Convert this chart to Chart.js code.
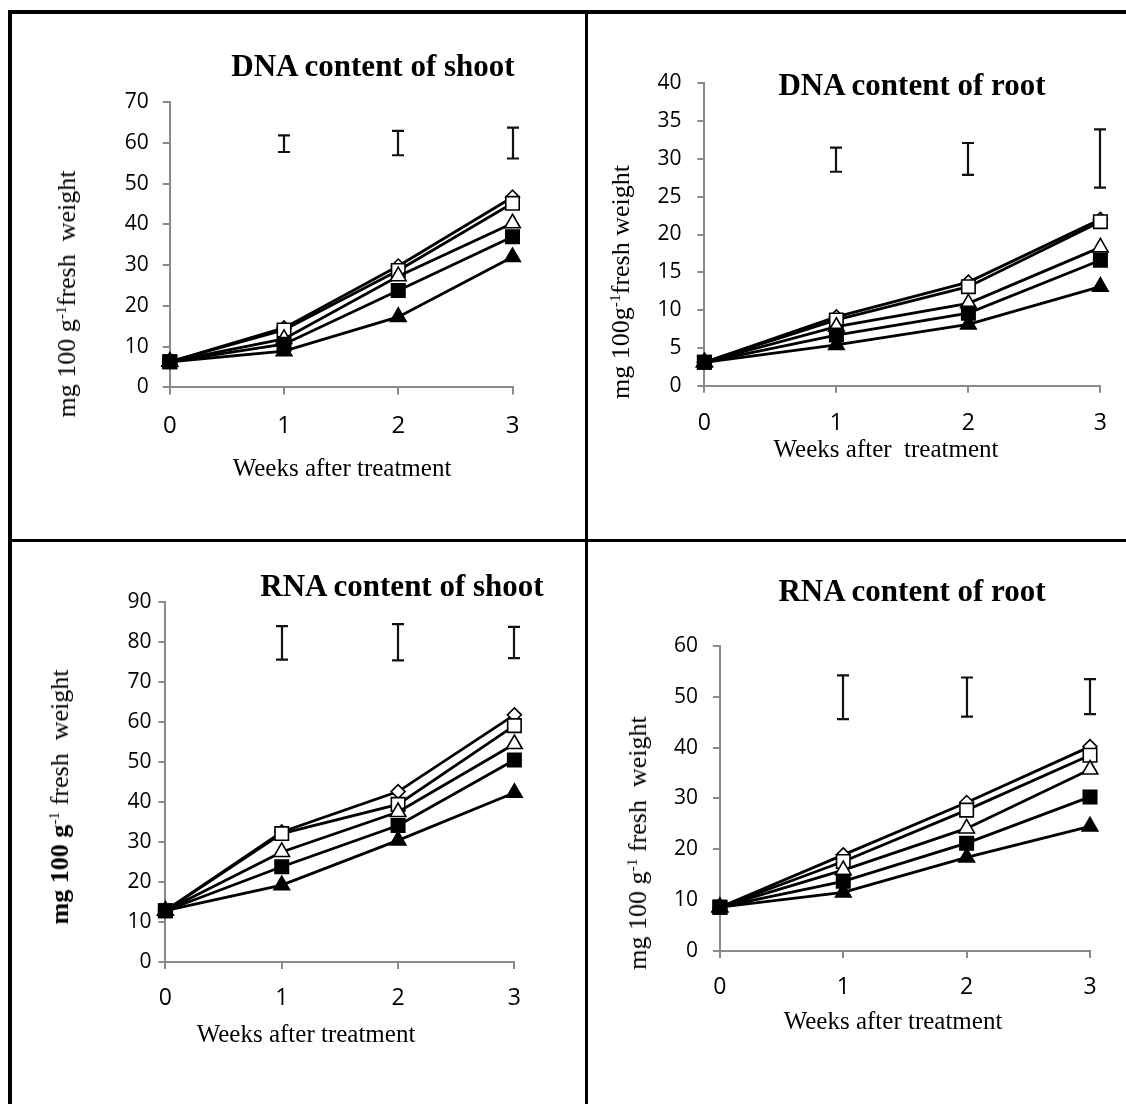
<!DOCTYPE html>
<html>
<head>
<meta charset="utf-8">
<script src="https://cdn.jsdelivr.net/npm/chart.js@4.4.1/dist/chart.umd.min.js"></script>
<style>
  body { margin: 0; background: #fff; }
  #page { position: relative; width: 1126px; height: 1104px; overflow: hidden; background: #fff; }
  .rule { position: absolute; background: #000; }
  canvas { position: absolute; }
  .txt { position: absolute; font-family: "Liberation Serif", "Times New Roman", serif; color: #000; white-space: pre; transform: translate(-50%, -50%); line-height: 1; }
  .title { font-weight: bold; font-size: 31px; }
  .xtitle { font-size: 25px; }
  .ytitle { font-size: 26px; transform: translate(-50%, -50%) rotate(-90deg); }
  sup { font-size: 0.6em; vertical-align: 0.55em; line-height: 0; }
</style>
</head>
<body>
<div id="page">
  <div class="rule" style="left:8px;top:10px;width:1118px;height:4px"></div>
  <div class="rule" style="left:8px;top:10px;width:4px;height:1094px"></div>
  <div class="rule" style="left:585px;top:10px;width:3px;height:1094px"></div>
  <div class="rule" style="left:8px;top:539px;width:1118px;height:3px"></div>

  <canvas id="dnaShoot" width="573" height="525" style="left:12px;top:14px"></canvas>
  <canvas id="dnaRoot" width="538" height="525" style="left:588px;top:14px"></canvas>
  <canvas id="rnaShoot" width="573" height="562" style="left:12px;top:542px"></canvas>
  <canvas id="rnaRoot" width="538" height="562" style="left:588px;top:542px"></canvas>

  <div class="txt title" style="left:373px;top:65px">DNA content of shoot</div>
  <div class="txt title" style="left:912px;top:84px">DNA content of root</div>
  <div class="txt title" style="left:402px;top:585px">RNA content of shoot</div>
  <div class="txt title" style="left:912px;top:590px">RNA content of root</div>

  <div class="txt xtitle" style="left:342px;top:467px">Weeks after treatment</div>
  <div class="txt xtitle" style="left:886px;top:448px">Weeks after  treatment</div>
  <div class="txt xtitle" style="left:306px;top:1033px">Weeks after treatment</div>
  <div class="txt xtitle" style="left:893px;top:1020px">Weeks after treatment</div>

  <div class="txt ytitle" style="left:67px;top:294px">mg 100 g<sup>-1</sup>fresh  weight</div>
  <div class="txt ytitle" style="left:621px;top:282px">mg 100g<sup>-1</sup>fresh weight</div>
  <div class="txt ytitle" style="left:60px;top:797px"><b>mg 100 g</b><sup>-1</sup> fresh  weight</div>
  <div class="txt ytitle" style="left:638px;top:843px">mg 100 g<sup>-1</sup> fresh  weight</div>
</div>

<script>
const weeks = ['0', '1', '2', '3'];
const seriesNames = ['T1', 'T2', 'T3', 'T4', 'T5'];

// DNA content of shoot
const dnaShootT1 = [6.3, 14.6, 29.8, 46.7];
const dnaShootT2 = [6.3, 14.1, 28.7, 45.2];
const dnaShootT3 = [6.3, 11.9, 27.3, 40.3];
const dnaShootT4 = [6.3, 10.6, 23.8, 37.0];
const dnaShootT5 = [6.3, 8.9, 17.3, 32.0];
const dnaShootLsdLow = [null, 57.8, 57.0, 56.2];
const dnaShootLsdHigh = [null, 61.9, 63.0, 63.8];
const dnaShootTicks = { max: 70, step: 10 };

// DNA content of root
const dnaRootT1 = [3.1, 9.1, 13.7, 22.0];
const dnaRootT2 = [3.1, 8.7, 13.1, 21.7];
const dnaRootT3 = [3.1, 7.8, 10.9, 18.3];
const dnaRootT4 = [3.1, 6.7, 9.6, 16.6];
const dnaRootT5 = [3.1, 5.4, 8.1, 13.1];
const dnaRootLsdLow = [null, 28.3, 27.9, 26.2];
const dnaRootLsdHigh = [null, 31.5, 32.1, 33.9];
const dnaRootTicks = { max: 40, step: 5 };

// RNA content of shoot
const rnaShootT1 = [12.8, 32.5, 42.6, 61.8];
const rnaShootT2 = [12.8, 32.1, 39.4, 59.1];
const rnaShootT3 = [12.8, 27.5, 37.5, 54.5];
const rnaShootT4 = [12.8, 23.8, 34.1, 50.5];
const rnaShootT5 = [12.8, 19.2, 30.4, 42.3];
const rnaShootLsdLow = [null, 75.6, 75.4, 76.0];
const rnaShootLsdHigh = [null, 84.0, 84.5, 83.8];
const rnaShootTicks = { max: 90, step: 10 };

// RNA content of root
const rnaRootT1 = [8.6, 18.9, 29.2, 40.2];
const rnaRootT2 = [8.6, 17.6, 27.7, 38.5];
const rnaRootT3 = [8.6, 15.9, 24.1, 35.7];
const rnaRootT4 = [8.6, 13.7, 21.2, 30.3];
const rnaRootT5 = [8.6, 11.5, 18.4, 24.5];
const rnaRootLsdLow = [null, 45.6, 46.1, 46.6];
const rnaRootLsdHigh = [null, 54.2, 53.8, 53.5];
const rnaRootTicks = { max: 60, step: 10 };

// marker look per series: open diamond, open square, open triangle, filled square, filled triangle
const markers = [
    { style: 'rectRot', radius: 7, fill: '#fff' },
    { style: 'rect', radius: 9.5, fill: '#fff' },
    { style: 'triangle', radius: 9, fill: '#fff' },
    { style: 'rect', radius: 9.5, fill: '#000' },
    { style: 'triangle', radius: 9, fill: '#000' },
];

// canvas box and plot area in page pixels
const panels = [
    { id: 'dnaShoot', box: [12, 14, 585, 539], plot: [169.8, 102.3, 512.5, 387.4], yPad: 14, xPad: 17, xFont: 24,
      series: [dnaShootT1, dnaShootT2, dnaShootT3, dnaShootT4, dnaShootT5],
      lsd: [dnaShootLsdLow, dnaShootLsdHigh], ticks: dnaShootTicks },
    { id: 'dnaRoot', box: [588, 14, 1126, 539], plot: [704.4, 83.3, 1100.4, 385.7], yPad: 16, xPad: 17, xFont: 23,
      series: [dnaRootT1, dnaRootT2, dnaRootT3, dnaRootT4, dnaRootT5],
      lsd: [dnaRootLsdLow, dnaRootLsdHigh], ticks: dnaRootTicks },
    { id: 'rnaShoot', box: [12, 542, 585, 1104], plot: [165.4, 602.1, 514.4, 961.9], yPad: 7, xPad: 16, xFont: 23,
      series: [rnaShootT1, rnaShootT2, rnaShootT3, rnaShootT4, rnaShootT5],
      lsd: [rnaShootLsdLow, rnaShootLsdHigh], ticks: rnaShootTicks },
    { id: 'rnaRoot', box: [588, 542, 1126, 1104], plot: [719.9, 646, 1090, 950.9], yPad: 15, xPad: 16, xFont: 23,
      series: [rnaRootT1, rnaRootT2, rnaRootT3, rnaRootT4, rnaRootT5],
      lsd: [rnaRootLsdLow, rnaRootLsdHigh], ticks: rnaRootTicks },
];

const axisGrey = '#8a8a8a';

function lsdPlugin(low, high) {
    return {
        id: 'lsdBars',
        afterDatasetsDraw(chart) {
            const { ctx, scales: { x, y } } = chart;
            ctx.save();
            ctx.strokeStyle = '#111';
            ctx.lineWidth = 2.2;
            low.forEach((lo, i) => {
                const hi = high[i];
                if (lo == null || hi == null) return;
                const px = Math.round(x.getPixelForValue(i));
                const y1 = y.getPixelForValue(lo);
                const y2 = y.getPixelForValue(hi);
                ctx.beginPath();
                ctx.moveTo(px, y1);
                ctx.lineTo(px, y2);
                ctx.moveTo(px - 6, y1);
                ctx.lineTo(px + 6, y1);
                ctx.moveTo(px - 6, y2);
                ctx.lineTo(px + 6, y2);
                ctx.stroke();
            });
            ctx.restore();
        }
    };
}

panels.forEach(p => {
    const [bl, bt, br, bb] = p.box;
    const [pl, pt, pr, pb] = p.plot;

    const datasets = p.series.map((values, i) => ({
        label: seriesNames[i],
        data: values,
        borderColor: '#000',
        borderWidth: 2.8,
        tension: 0,
        pointStyle: markers[i].style,
        pointRadius: markers[i].radius,
        pointBackgroundColor: markers[i].fill,
        pointBorderColor: '#000',
        pointBorderWidth: 1.6,
        clip: false,
    })).reverse(); // first series ends up drawn on top

    new Chart(document.getElementById(p.id).getContext('2d'), {
        type: 'line',
        data: { labels: weeks, datasets: datasets },
        options: {
            responsive: false,
            animation: false,
            events: [],
            layout: { padding: { left: 0, bottom: 0, top: pt - bt, right: br - pr } },
            plugins: { legend: { display: false }, tooltip: { enabled: false }, title: { display: false } },
            scales: {
                x: {
                    type: 'category',
                    offset: false,
                    grid: { display: true, drawOnChartArea: false, drawTicks: true, tickLength: 7, color: axisGrey, lineWidth: 2 },
                    border: { display: true, color: axisGrey, width: 2 },
                    ticks: { color: '#000', padding: p.xPad, maxRotation: 0, font: { family: 'Open Sans', size: p.xFont } },
                    afterFit(scale) { scale.height = bb - pb; }
                },
                y: {
                    min: 0,
                    max: p.ticks.max,
                    grid: { display: true, drawOnChartArea: false, drawTicks: true, tickLength: 7, color: axisGrey, lineWidth: 2 },
                    border: { display: true, color: axisGrey, width: 2 },
                    ticks: { stepSize: p.ticks.step, color: '#000', padding: p.yPad, font: { family: 'Open Sans', size: 21 } },
                    afterFit(scale) { scale.width = pl - bl; }
                }
            }
        },
        plugins: [lsdPlugin(p.lsd[0], p.lsd[1])]
    });
});
</script>
</body>
</html>
